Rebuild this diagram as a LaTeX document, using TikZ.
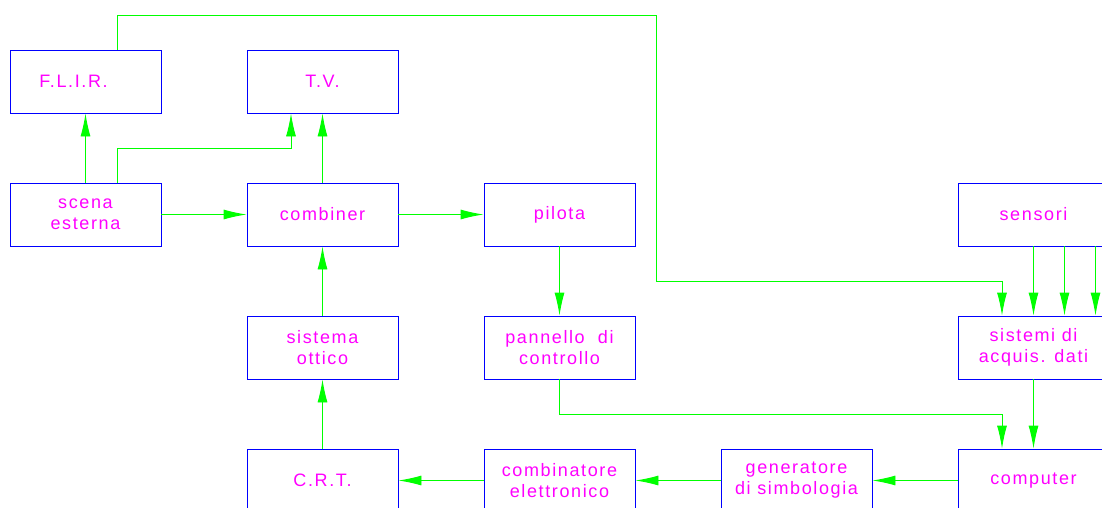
\documentclass[tikz,border=0pt]{standalone}
\usepackage{fontspec}
\setmainfont{Liberation Sans}[LetterSpace=9]
\usetikzlibrary{arrows.meta}
\definecolor{boxblue}{RGB}{0,0,255}
\definecolor{wiregreen}{RGB}{0,255,0}
\definecolor{labelmag}{RGB}{255,0,255}
\begin{document}
\begin{tikzpicture}[x=1pt,y=-1pt,
    blok/.style={draw=boxblue,line width=0.9pt,minimum width=151pt,minimum height=63pt,
      inner sep=0pt,text=labelmag,align=center,font=\fontsize{18}{21}\selectfont},
    wire/.style={draw=wiregreen,line width=0.9pt},
    feed/.style={wire,-{Latex[length=23pt,width=10pt]}}]
				\clip (0,0) rectangle (1102,508);
				
				\node[blok] (flir)     at (85.5,81.5)   {F.L.I.R.\hspace*{24pt}};
				\node[blok] (tv)       at (322.5,81.5)  {T.V.};
				\node[blok] (scena)    at (85.5,214.5)  {scena\\esterna};
				\node[blok] (combiner) at (322.5,214.5) {combiner};
				\node[blok] (pilota)   at (559.5,214.5) {pilota};
				\node[blok] (sensori)  at (1033.5,214.5){sensori};
				\node[blok] (ottico)   at (322.5,347.5) {sistema\\ottico};
				\node[blok] (pannello) at (559.5,347.5) {pannello\ \ di\\controllo};
				\node[blok] (sistemi)  at (1033.5,347.5){sistemi di\\acquis. dati};
				\node[blok] (crt)      at (322.5,480.5) {C.R.T.};
				\node[blok] (comb)     at (559.5,480.5) {combinatore\\elettronico};
				\node[blok] (gen)      at (796.5,480.5) {generatore\\di simbologia};
				\node[blok] (computer) at (1033.5,480.5){computer};
				
				\coordinate (ovest) at (656,15);
				\coordinate (sud)   at (656,281);
				\coordinate (giro)  at (559.5,414);
				
				\draw[feed] (scena.north) -- (flir.south);
				\draw[feed] ([xshift=31.5pt]scena.north) -- ++(0,-34) -| ([xshift=-31.5pt]tv.south);
				\draw[feed] (combiner.north) -- (tv.south);
				\draw[feed] (scena.east) -- (combiner.west);
				\draw[feed] (combiner.east) -- (pilota.west);
				\draw[feed] (pilota.south) -- (pannello.north);
				\draw[feed] (ottico.north) -- (combiner.south);
				\draw[feed] (crt.north) -- (ottico.south);
				\draw[feed] ([xshift=31.5pt]flir.north) |- (ovest) -- (sud) -| ([xshift=-31.5pt]sistemi.north);
				\draw[feed] (pannello.south) -- (giro) -| ([xshift=-31.5pt]computer.north);
				\foreach \dx in {0,31,62}
					\draw[feed] ([xshift=\dx pt]sensori.south) -- ([xshift=\dx pt]sistemi.north);
				\draw[feed] (sistemi.south) -- (computer.north);
				\draw[feed] (computer.west) -- (gen.east);
				\draw[feed] (gen.west) -- (comb.east);
				\draw[feed] (comb.west) -- (crt.east);
			\end{tikzpicture}
\end{document}
